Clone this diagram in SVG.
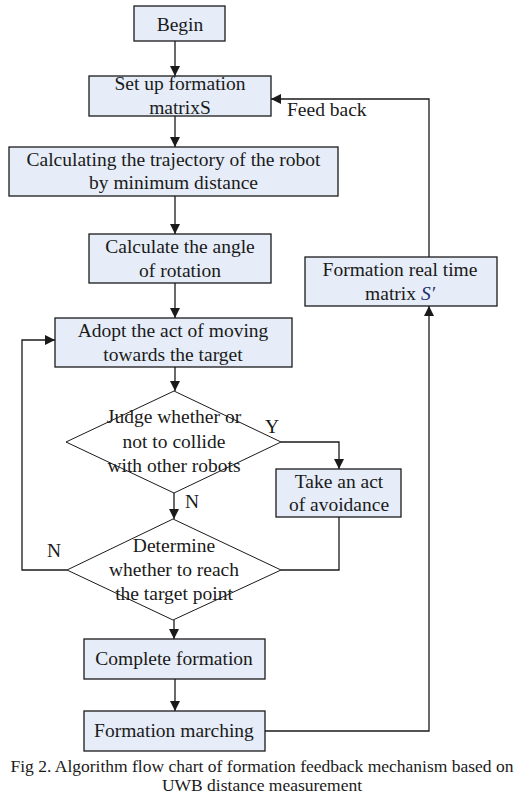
<svg xmlns="http://www.w3.org/2000/svg" width="530" height="804" viewBox="0 0 530 804">
<style>
.box{fill:#e6edf8;stroke:#1a1a1a;stroke-width:1.3}
.dia{fill:#ffffff;stroke:#1a1a1a;stroke-width:1}
.t{font-family:"Liberation Serif","Times New Roman",serif;font-size:19.5px;fill:#1a1a1a;text-anchor:middle}
.lbl{font-family:"Liberation Serif","Times New Roman",serif;font-size:19.5px;fill:#1a1a1a}
.cap{font-family:"Liberation Serif","Times New Roman",serif;font-size:17.5px;fill:#1a1a1a;text-anchor:middle}
.c{fill:none;stroke:#1a1a1a;stroke-width:1.3}
</style>
<defs>
<marker id="ah" viewBox="0 0 10 10" refX="10" refY="5" markerWidth="10" markerHeight="10" markerUnits="userSpaceOnUse" orient="auto">
<path d="M0,0 L10,5 L0,10 z" fill="#1a1a1a"/>
</marker>
</defs>
<rect width="530" height="804" fill="#ffffff"/>
<g id="connectors">
<path class="c" d="M175,41 V76" marker-end="url(#ah)"/>
<path class="c" d="M175,116 V147" marker-end="url(#ah)"/>
<path class="c" d="M175,196 V234" marker-end="url(#ah)"/>
<path class="c" d="M175,283 V318" marker-end="url(#ah)"/>
<path class="c" d="M175,367 V391" marker-end="url(#ah)"/>
<path class="c" d="M281,442 H339 V469" marker-end="url(#ah)"/>
<path class="c" d="M174,493 V519" marker-end="url(#ah)"/>
<path class="c" d="M339,517 V570 H281"/>
<path class="c" d="M67,570 H22 V340 H55" marker-end="url(#ah)"/>
<path class="c" d="M174,620 V639" marker-end="url(#ah)"/>
<path class="c" d="M175,679 V711" marker-end="url(#ah)"/>
<path class="c" d="M265,731 H429 V306" marker-end="url(#ah)"/>
<path class="c" d="M429,257 V99 H271" marker-end="url(#ah)"/>
<text class="lbl" x="287" y="116">Feed back</text>
<text class="lbl" x="265" y="433">Y</text>
<text class="lbl" x="185" y="508">N</text>
<text class="lbl" x="47" y="557">N</text>
</g>
<g id="begin">
<rect class="box" x="134" y="6" width="91" height="35"/>
<text class="t" x="180" y="31">Begin</text>
</g>
<g id="setup">
<rect class="box" x="89" y="76" width="182" height="40"/>
<text class="t" x="180" y="90">Set up formation</text>
<text class="t" x="180" y="114">matrixS</text>
</g>
<g id="trajectory">
<rect class="box" x="9" y="147" width="329" height="49"/>
<text class="t" x="173.5" y="166">Calculating the trajectory of the robot</text>
<text class="t" x="173.5" y="189">by minimum distance</text>
</g>
<g id="angle">
<rect class="box" x="89" y="234" width="182" height="49"/>
<text class="t" x="180" y="253">Calculate the angle</text>
<text class="t" x="180" y="277">of rotation</text>
</g>
<g id="realtime">
<rect class="box" x="305" y="257" width="192" height="49"/>
<text class="t" x="400" y="276">Formation real time</text>
<text class="t" x="400" y="300">matrix <tspan font-style="italic" fill="#1d2f6b">S′</tspan></text>
</g>
<g id="adopt">
<rect class="box" x="55" y="318" width="237" height="49"/>
<text class="t" x="173" y="337">Adopt the act of moving</text>
<text class="t" x="173" y="361">towards the target</text>
</g>
<g id="collide">
<polygon class="dia" points="174,391 281,442 174,493 66,442"/>
<text class="t" x="174" y="423">Judge whether or</text>
<text class="t" x="174" y="448">not to collide</text>
<text class="t" x="174" y="472">with other robots</text>
</g>
<g id="avoid">
<rect class="box" x="276" y="469" width="125" height="48"/>
<text class="t" x="339" y="488">Take an act</text>
<text class="t" x="339" y="511">of avoidance</text>
</g>
<g id="reach">
<polygon class="dia" points="173,519 281,570 173,620 67,570"/>
<text class="t" x="174" y="552">Determine</text>
<text class="t" x="174" y="576">whether to reach</text>
<text class="t" x="174" y="600">the target point</text>
</g>
<g id="complete">
<rect class="box" x="84" y="639" width="181" height="40"/>
<text class="t" x="174" y="665">Complete formation</text>
</g>
<g id="marching">
<rect class="box" x="84" y="711" width="181" height="40"/>
<text class="t" x="174" y="737">Formation marching</text>
</g>
<g id="caption">
<text class="cap" x="262" y="772">Fig 2. Algorithm flow chart of formation feedback mechanism based on</text>
<text class="cap" x="262" y="791">UWB distance measurement</text>
</g>
</svg>
